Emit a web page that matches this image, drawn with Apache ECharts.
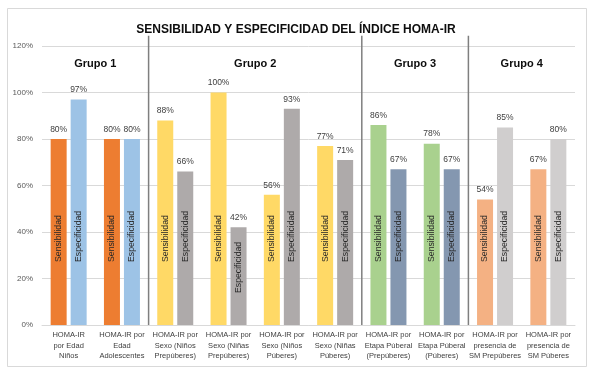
<!DOCTYPE html>
<html>
<head>
<meta charset="utf-8">
<script src="https://cdn.jsdelivr.net/npm/echarts@6/dist/echarts.min.js"></script>
<style>
html,body{margin:0;padding:0;background:#fff;}
#c{width:592px;height:369px;}
</style>
</head>
<body>
<div id="c"></div>
<script>
const categories = [
  "HOMA-IR\npor Edad\nNiños",
  "HOMA-IR por\nEdad\nAdolescentes",
  "HOMA-IR por\nSexo (Niños\nPrepúberes)",
  "HOMA-IR por\nSexo (Niñas\nPrepúberes)",
  "HOMA-IR por\nSexo (Niños\nPúberes)",
  "HOMA-IR por\nSexo (Niñas\nPúberes)",
  "HOMA-IR por\nEtapa Púberal\n(Prepúberes)",
  "HOMA-IR por\nEtapa Púberal\n(Púberes)",
  "HOMA-IR por\npresencia de\nSM Prepúberes",
  "HOMA-IR por\npresencia de\nSM Púberes"
];
const sensibilidad = [80, 80, 88, 100, 56, 77, 86, 78, 54, 67];
const especificidad = [97, 80, 66, 42, 93, 71, 67, 67, 85, 80];
const groupNames = ["Grupo 1", "Grupo 2", "Grupo 3", "Grupo 4"];
const groupBounds = [0, 2, 6, 8, 10];
const yTicks = [0, 20, 40, 60, 80, 100, 120];

const sensColors = ["#ED7D31", "#FFD966", "#A9D18E", "#F4B183"];
const specColors = ["#9DC3E6", "#AEAAAA", "#8497B0", "#D0CECE"];
function groupOf(i){ for(let g=0;g<4;g++){ if(i<groupBounds[g+1]) return g; } return 3; }

const FONT = "Liberation Sans";
const chart = echarts.init(document.getElementById('c'), null, {renderer:'canvas'});

function insideLabel(text){
  return {
    show:true, position:'insideBottom', rotate:90, align:'left', verticalAlign:'middle',
    distance:63, formatter:text, color:'#262626', fontSize:8.7, fontFamily:FONT
  };
}
function topLabel(arr){
  return {
    show:true, position:'top', distance:5, color:'#404040', fontSize:8.5, fontFamily:FONT,
    formatter:(p)=>arr[p.dataIndex] + '%'
  };
}
function buildData(arr, colors, text){
  return arr.map((v,i)=>({
    value:v,
    itemStyle:{color:colors[groupOf(i)]},
    label: v < 50 ? {distance:32} : {}
  }));
}

const option = {
  animation:false,
  backgroundColor:'#fff',
  textStyle:{fontFamily:FONT},
  title:{
    text:'SENSIBILIDAD Y ESPECIFICIDAD DEL ÍNDICE HOMA-IR',
    left:'center', top:19,
    textStyle:{fontSize:12, fontWeight:'bold', color:'#0D0D0D', fontFamily:FONT}
  },
  grid:{left:42, right:17, top:46, bottom:44},
  xAxis:[{
    type:'category', data:categories,
    axisLine:{lineStyle:{color:'#D9D9D9'}},
    axisTick:{show:false},
    axisLabel:{color:'#404040', fontSize:7.5, lineHeight:10.5, margin:5, interval:0, fontFamily:FONT}
  },{
    type:'value', min:0, max:10, show:false, position:'top'
  }],
  yAxis:{
    type:'value', min:yTicks[0], max:yTicks[yTicks.length-1], interval:20,
    axisLine:{show:false}, axisTick:{show:false},
    axisLabel:{formatter:'{value}%', color:'#595959', fontSize:8, margin:9, fontFamily:FONT},
    splitLine:{lineStyle:{color:'#D9D9D9'}}
  },
  series:[
    {name:'Sensibilidad', type:'bar', stack:'s', barWidth:16, barGap:'25%',
      data:buildData(sensibilidad, sensColors), label:insideLabel('Sensibilidad')},
    {name:'SensTop', type:'bar', stack:'s', barWidth:16,
      data:sensibilidad.map(()=>0), itemStyle:{color:'rgba(0,0,0,0)'}, label:topLabel(sensibilidad)},
    {name:'Especificidad', type:'bar', stack:'e', barWidth:16,
      data:buildData(especificidad, specColors), label:insideLabel('Especificidad')},
    {name:'SpecTop', type:'bar', stack:'e', barWidth:16,
      data:especificidad.map(()=>0), itemStyle:{color:'rgba(0,0,0,0)'}, label:topLabel(especificidad)}
  ]
};
chart.setOption(option);

const gr = [];
gr.push({type:'rect', shape:{x:7.5, y:8.5, width:579, height:358}, style:{fill:null, stroke:'#D9D9D9', lineWidth:1}, z:-1, silent:true});
const yTop = chart.convertToPixel({yAxisIndex:0}, 124.4);
const yBot = chart.convertToPixel({yAxisIndex:0}, 0);
const yGrp = chart.convertToPixel({yAxisIndex:0}, 112.4);
for (let k=1;k<groupBounds.length-1;k++){
  const x = chart.convertToPixel({xAxisIndex:1}, groupBounds[k]);
  gr.push({type:'line', shape:{x1:x, y1:yTop, x2:x, y2:yBot}, style:{stroke:'#7F7F7F', lineWidth:1.5}, z:10, silent:true});
}
for (let g=0; g<groupNames.length; g++){
  const xc = chart.convertToPixel({xAxisIndex:1}, (groupBounds[g]+groupBounds[g+1])/2);
  gr.push({type:'text', x:xc, y:yGrp, style:{text:groupNames[g], align:'center', verticalAlign:'middle', fontSize:11, fontWeight:'bold', fontFamily:FONT, fill:'#0D0D0D'}, z:10, silent:true});
}
chart.setOption({graphic:gr});
</script>
</body>
</html>
